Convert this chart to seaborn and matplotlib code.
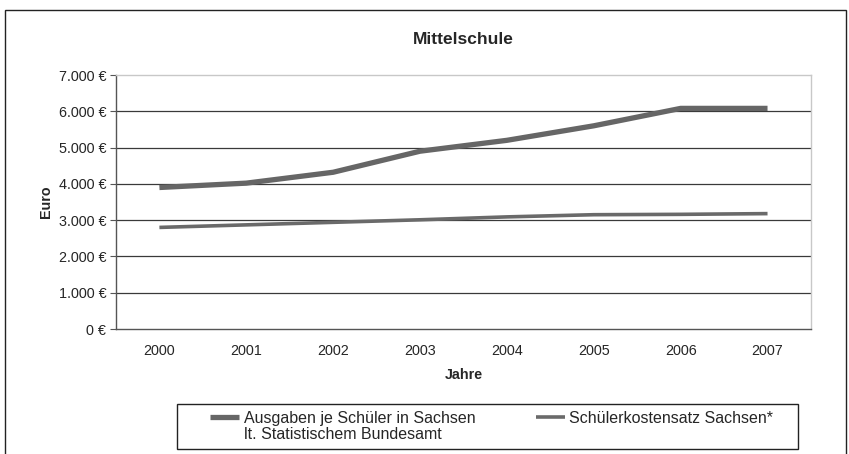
import numpy as np
import pandas as pd
import matplotlib.pyplot as plt
import seaborn as sns
from matplotlib.patches import Rectangle

years = ["2000", "2001", "2002", "2003", "2004", "2005", "2006", "2007"]
ausgaben = [3900, 4020, 4320, 4900, 5200, 5600, 6080, 6080]
kostensatz = [2800, 2870, 2940, 3010, 3090, 3150, 3160, 3180]
y_ticks = [0, 1000, 2000, 3000, 4000, 5000, 6000, 7000]
y_labels = ["0 €", "1.000 €", "2.000 €", "3.000 €", "4.000 €", "5.000 €", "6.000 €", "7.000 €"]
label_a = "Ausgaben je Schüler in Sachsen"
label_a2 = "lt. Statistischem Bundesamt"
label_k = "Schülerkostensatz Sachsen*"

df = pd.DataFrame({
    "pos": list(range(len(years))) * 2,
    "wert": ausgaben + kostensatz,
    "reihe": [label_a] * len(years) + [label_k] * len(years),
})

sns.set_style("white")
plt.rcParams['font.family'] = ['Liberation Sans', 'DejaVu Sans']

fig = plt.figure(figsize=(8.49, 4.54), dpi=100)
ax = fig.add_axes([0.1366, 0.2753, 0.8186, 0.5595])

# frame of the chart area (runs off the bottom like the scan)
fig.patches.append(Rectangle((5 / 849, -0.05), 841 / 849, 1 - 10 / 454 + 0.05,
                             transform=fig.transFigure, fill=False,
                             edgecolor="#222222", linewidth=1.0))

sns.lineplot(data=df, x="pos", y="wert", hue="reihe", size="reihe",
             sizes={label_a: 3.8, label_k: 2.6},
             palette={label_a: "#666666", label_k: "#6a6a6a"},
             solid_capstyle="butt", ax=ax, legend=False)

for y in y_ticks[1:-1]:
    ax.axhline(y, color="#3a3a3a", linewidth=0.9, zorder=0)

ax.set_xlim(-0.5, len(years) - 0.5)
ax.set_ylim(0, 7000)
ax.set_yticks(y_ticks)
ax.set_yticklabels(y_labels, fontsize=10.4)
ax.set_xticks(np.arange(-0.5, len(years)))
ax.set_xticklabels([])
ax.set_xticks(np.arange(len(years)), minor=True)
ax.set_xticklabels(years, minor=True, fontsize=10.4)
ax.tick_params(axis="x", which="major", direction="out", length=4, color="#555555")
ax.tick_params(axis="x", which="minor", length=0, pad=10.5)
ax.tick_params(axis="y", direction="out", length=4, color="#555555", left=True, pad=3)

ax.spines["left"].set_color("#555555")
ax.spines["bottom"].set_color("#555555")
ax.spines["top"].set_color("#c8c8c8")
ax.spines["right"].set_color("#c8c8c8")
for s in ax.spines.values():
    s.set_linewidth(1.0)

ax.set_xlabel("Jahre", fontsize=10.3, fontweight="bold", labelpad=7.5)
ax.set_ylabel("Euro", fontsize=10.3, fontweight="bold", labelpad=4)
ax.set_title("Mittelschule", fontsize=12.5, fontweight="bold", pad=22)

# legend: second line of the first entry as a handle-less row
handles = [plt.Line2D([], [], color="#666666", linewidth=3.8, solid_capstyle="butt"),
           plt.Line2D([], [], color="none"),
           plt.Line2D([], [], color="#6a6a6a", linewidth=2.6, solid_capstyle="butt"),
           plt.Line2D([], [], color="none")]
labels = [label_a, label_a2, label_k, ""]
fig.legend(handles, labels, ncol=2, loc="upper left",
           bbox_to_anchor=(210 / 849, 1 - 411 / 454), borderaxespad=0,
           fontsize=11.5, frameon=False, handlelength=1.8, handletextpad=0.3,
           borderpad=0, labelspacing=0.05, columnspacing=3.8)
fig.patches.append(Rectangle((177 / 849, 1 - 449 / 454), 621 / 849, 45 / 454,
                             transform=fig.transFigure, fill=False,
                             edgecolor="#222222", linewidth=1.0))

fig.savefig("out.png", dpi=100)
